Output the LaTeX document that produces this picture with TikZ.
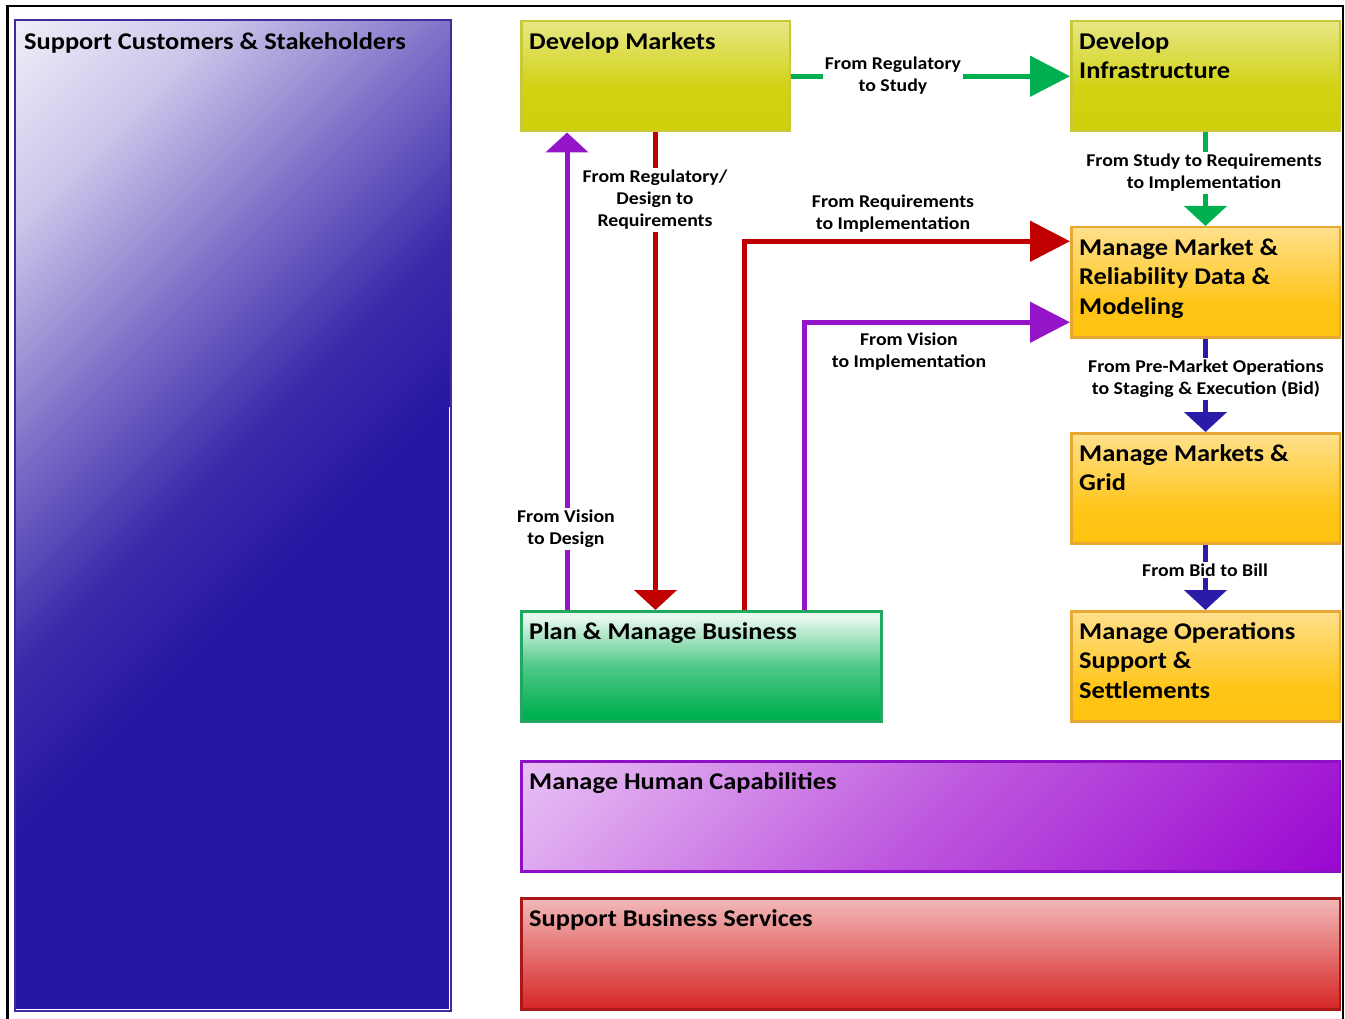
\documentclass[tikz,border=0pt]{standalone}
\usepackage{fontspec}
\setmainfont{Carlito}[FakeStretch=1.1]
\usetikzlibrary{arrows.meta}

\definecolor{scsdark}{HTML}{2617A2}
\definecolor{scsA}{HTML}{F0EEF9}
\definecolor{scsB}{HTML}{CCC6EA}
\definecolor{scsC}{HTML}{7A6CC6}
\definecolor{scsD}{HTML}{3A2BAA}
\definecolor{scsedge}{HTML}{3C2E9E}
\definecolor{yA}{HTML}{CCCC00}
\definecolor{yB}{HTML}{D2D214}
\definecolor{yC}{HTML}{EAEA98}
\definecolor{yD}{HTML}{FAFAEC}
\definecolor{yedge}{HTML}{C8C838}
\definecolor{oA}{HTML}{FFC000}
\definecolor{oB}{HTML}{FFC518}
\definecolor{oC}{HTML}{FFE08C}
\definecolor{oD}{HTML}{FFF4D6}
\definecolor{oedge}{HTML}{E8A634}
\definecolor{gA}{HTML}{00B050}
\definecolor{gB}{HTML}{50C888}
\definecolor{gC}{HTML}{E6F7ED}
\definecolor{gD}{HTML}{FFFFFF}
\definecolor{gedge}{HTML}{20A860}
\definecolor{pA}{HTML}{F6E4FB}
\definecolor{pB}{HTML}{E0ACF0}
\definecolor{pC}{HTML}{BE58DE}
\definecolor{pD}{HTML}{9A08D0}
\definecolor{pedge}{HTML}{8E10C4}
\definecolor{rA}{HTML}{D00000}
\definecolor{rB}{HTML}{E26060}
\definecolor{rC}{HTML}{F4C8C8}
\definecolor{rD}{HTML}{FFF2F2}
\definecolor{redge}{HTML}{A81818}
\definecolor{cgreen}{HTML}{00B050}
\definecolor{cred}{HTML}{C00000}
\definecolor{cpurple}{HTML}{9414C8}
\definecolor{cblue}{HTML}{2A1CA8}

\pgfdeclareverticalshading{yshade}{100bp}{color(0bp)=(yA); color(45bp)=(yB); color(80bp)=(yC); color(100bp)=(yD)}
\pgfdeclareverticalshading{oshade}{100bp}{color(0bp)=(oA); color(40bp)=(oB); color(75bp)=(oC); color(100bp)=(oD)}
\pgfdeclareverticalshading{gshade}{100bp}{color(0bp)=(gA); color(28bp)=(gA); color(50bp)=(gB); color(72bp)=(gC); color(100bp)=(gD)}
\pgfdeclarehorizontalshading{pshade}{100bp}{color(0bp)=(pA); color(22bp)=(pB); color(50bp)=(pC); color(85bp)=(pD); color(100bp)=(pD)}
\pgfdeclareverticalshading{rshade}{100bp}{color(0bp)=(rA); color(12bp)=(rA); color(45bp)=(rB); color(80bp)=(rC); color(100bp)=(rD)}

\tikzset{
  box/.style={rectangle, inner sep=0pt, anchor=north west, line width=2.5pt},
  ybox/.style={box, draw=yedge, shade, shading=yshade, minimum width=268.5pt, minimum height=110pt},
  obox/.style={box, draw=oedge, shade, shading=oshade, minimum width=268.5pt, minimum height=110pt},
  ttl/.style={anchor=north west, inner sep=0pt, align=left, text=black,
    font=\bfseries\fontsize{24pt}{29.5pt}\selectfont},
  lbl/.style={align=center, fill=white, inner sep=2pt, text=black,
    font=\bfseries\fontsize{18pt}{22pt}\selectfont},
  conn/.style={line width=5pt},
  rtip/.style={-{Triangle[width=40pt,length=40pt]}},
  dtip/.style={-{Triangle[width=42pt,length=20pt]}}
}

\begin{document}
\begin{tikzpicture}[x=1pt,y=-1pt]
\useasboundingbox (0,0) rectangle (1345,1019);

% Support Customers & Stakeholders (diagonal gradient built from stripes)
\node[box, fill=scsdark, minimum width=433pt, minimum height=988pt] (scs) at (15,20) {};
\begin{scope}
  \clip (scs.north west) rectangle (scs.south east);
  \foreach \sa/\sb/\ca/\cb in {0/200/scsA/scsB, 200/450/scsB/scsC, 450/650/scsC/scsD, 650/820/scsD/scsdark}{
    \foreach \k in {0,...,24}{
      \pgfmathsetmacro{\sone}{\sa+\k*(\sb-\sa)/25}
      \pgfmathsetmacro{\stwo}{\sone+(\sb-\sa)/25+1.5}
      \pgfmathtruncatemacro{\pc}{\k*4}
      \fill[\cb!\pc!\ca] (15+\sone,20) -- (15+\stwo,20) -- (15,20+\stwo) -- (15,20+\sone) -- cycle;
    }
  }
\end{scope}
\draw[line width=2pt, scsedge] (scs.north west) rectangle (scs.south east);
\node[ttl] (scsT) at ([shift={(9pt,-12pt)}]scs.north west) {Support Customers \& Stakeholders};

% boxes
\node[ybox] (dm) at (520,20) {};
\node[ttl] (dmT) at ([shift={(9pt,-12pt)}]dm.north west) {Develop Markets};

\node[ybox] (di) at (1070,20) {};
\node[ttl] (diT) at ([shift={(9pt,-12pt)}]di.north west) {Develop\\Infrastructure};

\node[obox] (mmr) at (1070,226) {};
\node[ttl] (mmrT) at ([shift={(9pt,-12pt)}]mmr.north west) {Manage Market \&\\Reliability Data \&\\Modeling};

\node[obox] (mmg) at (1070,432) {};
\node[ttl] (mmgT) at ([shift={(9pt,-12pt)}]mmg.north west) {Manage Markets \&\\Grid};

\node[obox] (mos) at (1070,610) {};
\node[ttl] (mosT) at ([shift={(9pt,-12pt)}]mos.north west) {Manage Operations\\Support \&\\Settlements};

\node[box, draw=gedge, shade, shading=gshade, minimum width=360pt, minimum height=110pt] (pmb) at (520,610) {};
\node[ttl] (pmbT) at ([shift={(9pt,-12pt)}]pmb.north west) {Plan \& Manage Business};

\node[box, draw=pedge, shade, shading=pshade, shading angle=-45, minimum width=818.5pt, minimum height=110pt] (mhc) at (520,760) {};
\node[ttl] (mhcT) at ([shift={(9pt,-12pt)}]mhc.north west) {Manage Human Capabilities};

\node[box, draw=redge, shade, shading=rshade, minimum width=818.5pt, minimum height=111pt] (sbs) at (520,897) {};
\node[ttl] (sbsT) at ([shift={(9pt,-12pt)}]sbs.north west) {Support Business Services};

% connectors
\draw[conn, cgreen, rtip] (dm.east) -- (di.west);
\node[lbl] (l1) at (893,76) {From Regulatory\\to Study};

\draw[conn, cred, dtip] (dm.south) -- (dm.south |- pmb.north);
\node[lbl] (l2) at (655,200) {From Regulatory/\\Design to\\Requirements};

\coordinate (pv) at ([xshift=47pt]pmb.north west);
\draw[conn, cpurple, dtip] (pv) -- (pv |- dm.south);
\node[lbl] (l3) at (566,529) {From Vision\\to Design};

\coordinate (rq) at ([xshift=224pt]pmb.north west);
\draw[conn, cred, rtip] (rq) |- ([yshift=41pt]mmr.west);
\node[lbl] (l4) at (893,214) {From Requirements\\to Implementation};

\coordinate (vi) at ([xshift=284pt]pmb.north west);
\draw[conn, cpurple, rtip] (vi) |- ([yshift=-40pt]mmr.west);
\node[lbl] (l5) at (909,352) {From Vision\\to Implementation};

\draw[conn, cgreen, dtip] (di.south) -- (mmr.north);
\node[lbl] (l6) at (1204,173) {From Study to Requirements\\to Implementation};

\draw[conn, cblue, dtip] (mmr.south) -- (mmg.north);
\node[lbl] (l7) at (1206,379) {From Pre-Market Operations\\to Staging \& Execution (Bid)};

\draw[conn, cblue, dtip] (mmg.south) -- (mos.north);
\node[lbl] (l8) at (1205,570) {From Bid to Bill};

% outer frame (no bottom edge)
\draw[line width=2.5pt, black] (7.5,1019) -- (7.5,6) -- (1343,6) -- (1343,1019);
\end{tikzpicture}
\end{document}
